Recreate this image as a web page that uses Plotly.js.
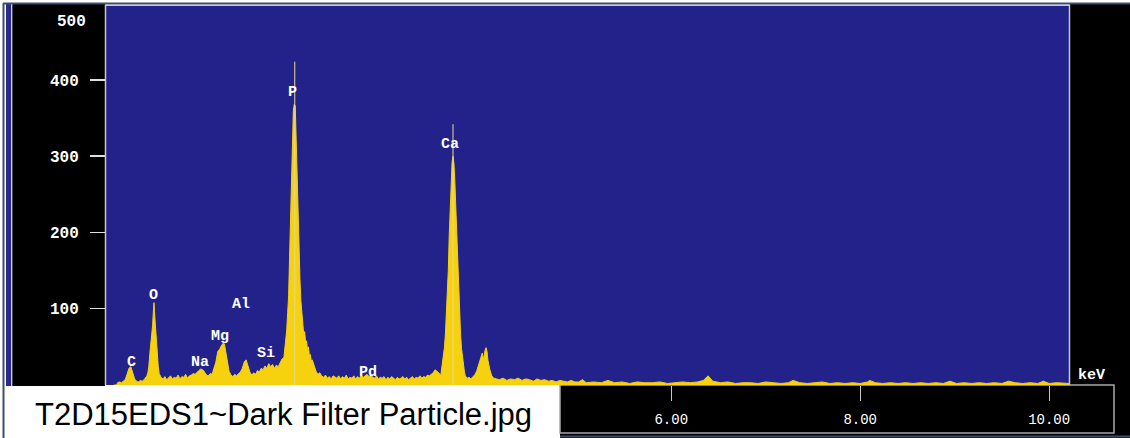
<!DOCTYPE html>
<html>
<head>
<meta charset="utf-8">
<script src="https://cdn.plot.ly/plotly-3.0.1.min.js"></script>
<style>
  html, body { margin: 0; padding: 0; background: #ffffff; }
  #chart { width: 1130px; height: 438px; }
</style>
</head>
<body>
<div id="chart"></div>
<script>
// EDS spectrum: energy (keV) and counts per channel
const keV = [
  0.10, 0.13, 0.14, 0.16, 0.18, 0.20, 0.22, 0.24, 0.26, 0.28, 0.30, 0.32, 0.34, 0.36, 0.38, 0.40, 0.42,
  0.44, 0.45, 0.46, 0.47, 0.48, 0.49, 0.50, 0.51, 0.52, 0.525, 0.53, 0.54, 0.55, 0.56, 0.57, 0.58, 0.60,
  0.62, 0.64, 0.66, 0.68, 0.70, 0.72, 0.74, 0.76, 0.78, 0.80, 0.82, 0.84, 0.86, 0.88, 0.90, 0.92, 0.94,
  0.96, 0.98, 1.00, 1.02, 1.04, 1.06, 1.08, 1.10, 1.12, 1.14, 1.16,
  1.18, 1.20, 1.22, 1.24, 1.26, 1.27, 1.28, 1.30, 1.32, 1.34, 1.36, 1.38, 1.40, 1.42, 1.44,
  1.46, 1.48, 1.50, 1.52, 1.54, 1.56, 1.58, 1.60, 1.62, 1.64, 1.66, 1.68, 1.70, 1.72, 1.74, 1.76,
  1.78, 1.80, 1.82, 1.84, 1.86, 1.88,
  1.90, 1.91, 1.92, 1.93, 1.94, 1.95, 1.96, 1.97, 1.98, 1.99, 2.00, 2.01, 2.02, 2.03, 2.04, 2.05,
  2.06, 2.07, 2.08, 2.09, 2.10, 2.11, 2.12, 2.13, 2.14, 2.15, 2.16, 2.17, 2.18, 2.19, 2.20, 2.22,
  2.24, 2.26, 2.28, 2.30,
  2.32, 2.34, 2.36, 2.38, 2.40, 2.42, 2.44, 2.46, 2.48, 2.50, 2.52, 2.54, 2.56, 2.58, 2.60, 2.62,
  2.64, 2.66, 2.68, 2.70, 2.72, 2.74, 2.76, 2.78, 2.80, 2.82, 2.84, 2.86, 2.88, 2.90, 2.92, 2.94,
  2.96, 2.98, 3.00, 3.02, 3.04, 3.06, 3.08, 3.10, 3.12, 3.14, 3.16, 3.18, 3.20, 3.22, 3.24, 3.26,
  3.28, 3.30, 3.32, 3.34, 3.36, 3.38, 3.40, 3.42, 3.44, 3.46, 3.48, 3.50,
  3.52, 3.54, 3.56, 3.57, 3.58, 3.59, 3.60, 3.61, 3.62, 3.63, 3.64, 3.65, 3.66, 3.67, 3.68, 3.69,
  3.70, 3.71, 3.72, 3.73, 3.74, 3.75, 3.76, 3.77, 3.78, 3.79, 3.80, 3.81, 3.82, 3.84,
  3.86, 3.88, 3.90, 3.92, 3.94, 3.96, 3.98, 3.99, 4.00, 4.01, 4.02, 4.03, 4.04, 4.05, 4.06, 4.08,
  4.10, 4.12, 4.14,
  4.18, 4.22, 4.26, 4.30, 4.34, 4.38, 4.42, 4.46, 4.50, 4.54, 4.58, 4.62, 4.66, 4.70, 4.74, 4.78,
  4.82, 4.86, 4.90, 4.94, 4.98,
  5.02, 5.06, 5.10, 5.18, 5.26, 5.33, 5.40, 5.48, 5.56, 5.64, 5.72, 5.80, 5.88, 5.96, 6.04, 6.12,
  6.20, 6.28, 6.34, 6.39, 6.44, 6.52, 6.60, 6.68, 6.76, 6.84, 6.92, 7.00, 7.08, 7.16, 7.24, 7.29,
  7.36, 7.44, 7.52, 7.60, 7.68, 7.76, 7.84, 7.92, 8.00, 8.08, 8.10, 8.16, 8.24, 8.32, 8.40, 8.48,
  8.56, 8.64, 8.72, 8.80, 8.88, 8.95, 9.02, 9.10, 9.18, 9.26, 9.34, 9.42, 9.50, 9.57, 9.64, 9.72,
  9.80, 9.88, 9.94, 10.00, 10.08, 10.16, 10.21
];
const counts = [
  0, 0, 3, 4, 3, 5, 7, 14, 22, 24, 15, 8, 5, 4, 6, 5, 7,
  10, 12, 16, 24, 40, 52, 64, 78, 100, 108, 96, 74, 56, 40, 24, 15, 10,
  8, 11, 7, 9, 12, 8, 10, 9, 13, 8, 11, 10, 14, 9, 12, 13, 15,
  14, 17, 19, 21, 20, 17, 13, 12, 15, 14, 22,
  30, 44, 47, 52, 55, 54, 46, 30, 18, 13, 11, 14, 12, 15, 17,
  22, 30, 33, 26, 17, 13, 16, 14, 19, 17, 22, 20, 25, 22, 28, 24,
  27, 22, 26, 24, 30, 34,
  36, 47, 60, 72, 95, 117, 168, 222, 275, 325, 360, 368, 366, 322, 270, 222,
  168, 138, 110, 95, 82, 66, 70, 55, 58, 46, 50, 38, 40, 31, 33, 24,
  18, 14, 16, 12,
  10, 13, 9, 11, 8, 12, 10, 9, 12, 8, 11, 9, 13, 8, 10, 9,
  12, 8, 11, 9, 13, 10, 12, 14, 11, 13, 10, 9, 12, 8, 10, 9,
  11, 7, 10, 8, 11, 9, 7, 10, 8, 9, 11, 8, 10, 7, 9, 11,
  8, 10, 9, 12, 9, 11, 10, 13, 12, 14, 16, 20,
  18, 16, 12, 20, 28, 38, 50, 68, 90, 118, 150, 196, 235, 268, 292, 300,
  290, 265, 232, 195, 150, 118, 90, 66, 48, 36, 28, 18, 12, 9,
  10, 8, 11, 13, 18, 26, 34, 40, 42, 34, 38, 46, 49, 44, 32, 20,
  12, 9, 8,
  7, 9, 6, 8, 7, 9, 6, 8, 7, 5, 8, 6, 7, 5, 6, 4,
  6, 5, 4, 6, 4,
  4, 7, 3, 4, 3, 6, 3, 4, 2, 4, 3, 3, 4, 2, 3, 4,
  3, 4, 6, 12, 5, 3, 4, 2, 3, 3, 2, 4, 3, 2, 3, 6,
  3, 2, 3, 4, 2, 3, 2, 3, 2, 4, 6, 3, 2, 3, 2, 3,
  2, 3, 2, 3, 2, 5, 2, 3, 2, 3, 2, 3, 2, 5, 3, 2,
  3, 2, 5, 2, 3, 2, 2
];

// KLM line markers (energy, height)
const markerKeV = [2.015, 3.69];
const markerTop = [424, 342];

// Element labels: symbol, energy position, count position
const elements = ['C', 'O', 'Na', 'Mg', 'Al', 'Si', 'P', 'Pd', 'Ca'];
const elemKeV = [0.282, 0.525, 1.012, 1.224, 1.446, 1.711, 1.996, 2.79, 3.658];
const elemCounts = [29, 118, 29, 64, 105, 41, 384, 16, 316];

// Axis ticks
const yTicks = [100, 200, 300, 400];
const xTicks = [6, 8, 10];
const xTickText = ['6.00', '8.00', '10.00'];

const caption = 'T2D15EDS1~Dark Filter Particle.jpg';

const YELLOW = '#f6d10e';
const BLUE = '#22228a';
const MONO = 'Liberation Mono, DejaVu Sans Mono, monospace';

// plot area in pixels: x 106..1069, y 6..385
const W = 1130, H = 438, L = 106, R = 1069, T = 6, B = 385;
const px = v => (v - L) / (R - L);
const py = v => (B - v) / (B - T);

const spectrum = {
  type: 'scatter', mode: 'lines', x: keV, y: counts,
  line: { color: YELLOW, width: 1 }, fill: 'tozeroy', fillcolor: YELLOW,
  hoverinfo: 'skip', showlegend: false
};

const mx = [], my = [];
markerKeV.forEach((e, i) => { mx.push(e, e, null); my.push(0, markerTop[i], null); });
const markers = {
  type: 'scatter', mode: 'lines', x: mx, y: my,
  line: { color: '#e6d98c', width: 1 }, hoverinfo: 'skip', showlegend: false
};

const annotations = elements.map((s, i) => ({
  x: elemKeV[i], y: elemCounts[i], xref: 'x', yref: 'y', text: s, showarrow: false,
  xanchor: 'center', yanchor: 'middle',
  font: { family: MONO, size: 15, color: '#ffffff', weight: 'bold' }
}));
annotations.push(
  { x: px(71), y: py(22), xref: 'paper', yref: 'paper', text: '500', showarrow: false,
    xanchor: 'center', yanchor: 'middle',
    font: { family: MONO, size: 16, color: '#ffffff', weight: 'bold' } },
  { x: px(1091), y: py(375), xref: 'paper', yref: 'paper', text: 'keV', showarrow: false,
    xanchor: 'center', yanchor: 'middle',
    font: { family: MONO, size: 15, color: '#ffffff', weight: 'bold' } },
  { x: px(33), y: py(414), xref: 'paper', yref: 'paper', text: caption, showarrow: false,
    xanchor: 'left', yanchor: 'middle',
    font: { family: 'Liberation Sans, Arial, sans-serif', size: 31, color: '#000000' } }
);

const rect = (x0, y0, x1, y1, fill, layer) => ({
  type: 'rect', xref: 'paper', yref: 'paper', x0: px(x0), x1: px(x1), y0: py(y0), y1: py(y1),
  fillcolor: fill, line: { width: 0 }, layer: layer || 'below'
});
const seg = (x0, y0, x1, y1, color, w) => ({
  type: 'line', xref: 'paper', yref: 'paper', x0: px(x0), x1: px(x1), y0: py(y0), y1: py(y1),
  line: { color: color, width: w }, layer: 'above'
});

const shapes = [
  rect(12, 4, 105, 386, '#000000'),
  rect(6, 4, 11, 386, '#2a2a8c'),
  rect(1070, 4, 1130, 438, '#000000'),
  rect(560, 385, 1130, 438, '#000000'),
  { type: 'rect', xref: 'paper', yref: 'paper', x0: px(560), x1: px(1114), y0: py(385), y1: py(433),
    line: { color: '#a8a8a8', width: 1.5 }, fillcolor: 'rgba(0,0,0,0)', layer: 'below' },
  seg(560, 436.5, 1130, 436.5, '#3c4e70', 2),
  seg(3.5, 3, 3.5, 438, '#3c4e70', 2),
  seg(3, 3.5, 1130, 3.5, '#3c4e70', 2),
  seg(105.5, 5, 105.5, 385, '#c8c8d4', 1.5),
  seg(1069.5, 5, 1069.5, 385, '#c8c8d4', 1.5),
  seg(105, 5.5, 1070, 5.5, '#c8c8d4', 1),
  seg(12, 4, 12, 386, '#9a9ab0', 1)
];

const layout = {
  width: W, height: H,
  margin: { l: L, r: W - R, t: T, b: H - B, pad: 0 },
  paper_bgcolor: '#ffffff', plot_bgcolor: BLUE,
  showlegend: false,
  xaxis: {
    range: [0.017, 10.21], showgrid: false, zeroline: false, showline: false,
    ticks: 'outside', ticklen: 15, tickwidth: 1, tickcolor: '#c8c8c8',
    tickvals: xTicks, ticktext: xTickText, ticklabelstandoff: 6,
    tickfont: { family: MONO, size: 14, color: '#ffffff' }
  },
  yaxis: {
    range: [0, 497], showgrid: false, zeroline: false, showline: false,
    ticks: 'outside', ticklen: 15, tickwidth: 1.5, tickcolor: '#e0e0e0',
    tickvals: yTicks, ticklabelstandoff: 8,
    tickfont: { family: MONO, size: 16, color: '#ffffff', weight: 'bold' }
  },
  shapes: shapes,
  annotations: annotations
};

Plotly.newPlot('chart', [spectrum, markers], layout, { staticPlot: true, displayModeBar: false });
</script>
</body>
</html>
